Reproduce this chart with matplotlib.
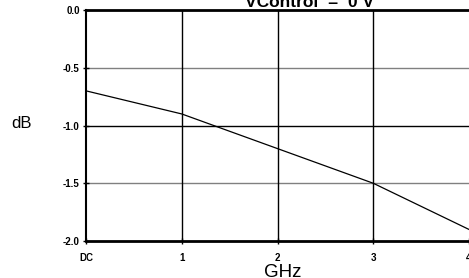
import matplotlib
matplotlib.use("Agg")
import matplotlib.pyplot as plt

# ============================================================
# Data
# ============================================================

FREQ_GHZ = [0, 1, 2, 3, 4]
LOSS_DB = [-0.70, -0.90, -1.20, -1.50, -1.90]

X_TICKS = [0, 1, 2, 3, 4]
X_TICK_LABELS = ["DC", "1", "2", "3", "4"]
Y_TICKS = [0.0, -0.5, -1.0, -1.5, -2.0]
Y_TICK_LABELS = ["0.0", "-0.5", "-1.0", "-1.5", "-2.0"]

TITLE = "VControl  =  0 V"

plt.rcParams["font.family"] = ["Liberation Sans", "DejaVu Sans"]

fig = plt.figure(figsize=(4.69, 2.78), dpi=100)
ax = fig.add_axes([86 / 469, 37 / 278, 1 - 86 / 469, 231 / 278])

# grid lines
for y in [-0.5, -1.5]:
    ax.axhline(y, color="#808080", linewidth=1.0, zorder=1)
ax.axhline(-1.0, color="black", linewidth=1.0, zorder=1)
for x in [1, 2, 3]:
    ax.axvline(x, color="black", linewidth=1.0, zorder=1)

ax.plot(FREQ_GHZ, LOSS_DB, color="black", linewidth=0.9, zorder=3)

ax.set_xlim(0, 4)
ax.set_ylim(-2.0, 0.0)
ax.set_xticks(X_TICKS)
ax.set_xticklabels(X_TICK_LABELS, fontsize=7, fontweight="bold")
ax.set_yticks(Y_TICKS)
ax.set_yticklabels(Y_TICK_LABELS, fontsize=7, fontweight="bold")
ax.tick_params(axis="both", direction="inout", length=5, width=1)
ax.tick_params(axis="x", pad=6)
ax.tick_params(axis="y", pad=2)

for side in ["top", "bottom"]:
    ax.spines[side].set_linewidth(2.0)
ax.spines["left"].set_linewidth(1.5)
ax.spines["right"].set_visible(False)

fig.text(21 / 469, 1 - 128 / 278, "dB", fontsize=12, ha="center", va="baseline")
fig.text(283 / 469, 1 - 277 / 278, "GHz", fontsize=13.5, ha="center", va="baseline")
fig.text(310 / 469, 1 - 7 / 278, TITLE, fontsize=12.5, fontweight="bold",
         ha="center", va="baseline")

fig.savefig("out.png", dpi=100)
